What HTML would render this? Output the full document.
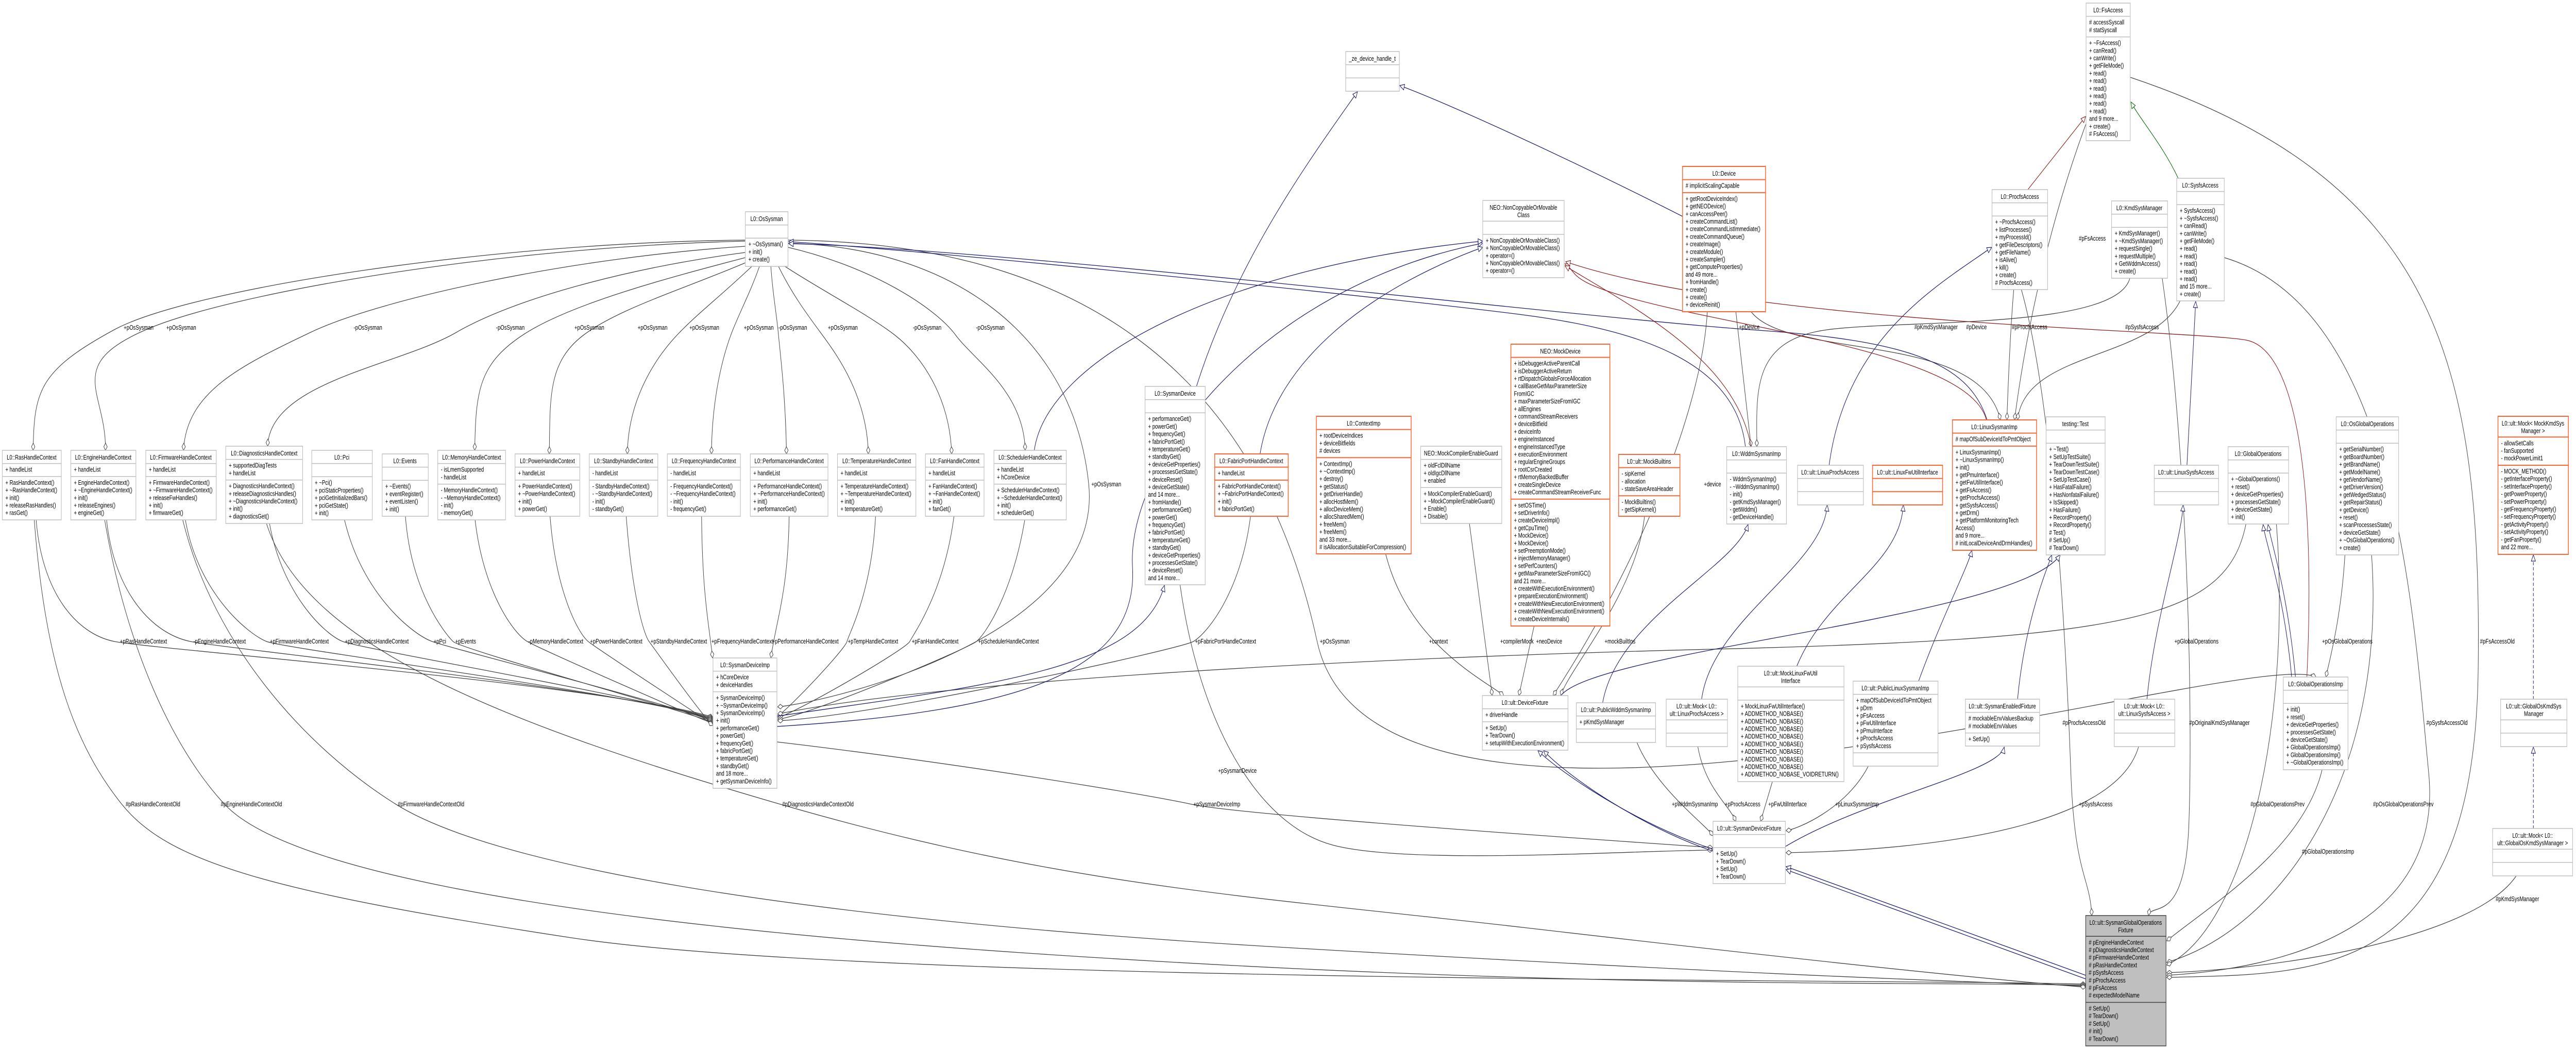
<!DOCTYPE html>
<html><head><meta charset="utf-8"><meta name="viewport" content="width=6767"><style>
html,body{margin:0;padding:0;background:#fff;width:100%;height:100%;overflow:hidden}
svg{display:block;width:100vw;height:100vh}
.t{font-family:"Liberation Sans",sans-serif;font-size:13px;fill:#000}
.c{text-anchor:middle}
.b{fill:#fff;stroke:#bfbfbf;stroke-width:1.5}
.o{fill:#fff;stroke:#ff6633;stroke-width:2}
.g{fill:#bfbfbf;stroke:#404040;stroke-width:1.5}
.e{fill:none;stroke:#404040;stroke-width:1.3}
.n{fill:none;stroke:#191970;stroke-width:1.3}
.r{fill:none;stroke:#8b1a1a;stroke-width:1.3}
.gr{fill:none;stroke:#006400;stroke-width:1.3}
</style></head><body>
<svg xmlns="http://www.w3.org/2000/svg" viewBox="0 0 6767 2036" preserveAspectRatio="none">
<defs>
<marker id="dm" markerUnits="userSpaceOnUse" markerWidth="20" markerHeight="12" refX="15" refY="6" orient="auto"><path d="M1,6 L8,1.5 L15,6 L8,10.5 Z" fill="#fff" stroke="#404040" stroke-width="1.2"/></marker>
<marker id="tn" markerUnits="userSpaceOnUse" markerWidth="16" markerHeight="14" refX="13" refY="7" orient="auto"><path d="M1,1.5 L13,7 L1,12.5 Z" fill="#fff" stroke="#191970" stroke-width="1.2"/></marker>
<marker id="tr" markerUnits="userSpaceOnUse" markerWidth="16" markerHeight="14" refX="13" refY="7" orient="auto"><path d="M1,1.5 L13,7 L1,12.5 Z" fill="#fff" stroke="#8b1a1a" stroke-width="1.2"/></marker>
<marker id="tg" markerUnits="userSpaceOnUse" markerWidth="16" markerHeight="14" refX="13" refY="7" orient="auto"><path d="M1,1.5 L13,7 L1,12.5 Z" fill="#fff" stroke="#006400" stroke-width="1.2"/></marker>
</defs>

<g class="e" marker-end="url(#dm)">
<path d="M1958,466 C1300,470 500,560 300,640 S90,760 87,874"/>
<path d="M1958,468 C1300,480 600,570 383,640 S280,760 277,874"/>
<path d="M1958,478 C1500,500 1000,580 816,645 S490,760 482,874"/>
<path d="M1958,490 C1650,520 1350,580 1199,645 S710,740 703,866"/>
<path d="M1958,500 C1750,540 1500,590 1378,648 S1250,760 1247,874"/>
<path d="M1958,510 C1800,560 1620,600 1530,652 S1445,770 1443,881"/>
<path d="M1975,517 C1900,570 1830,610 1779,650 S1650,770 1648,881"/>
<path d="M1995,517 C1970,570 1940,610 1920,650 S1870,770 1869,881"/>
<path d="M2025,517 C2030,570 2040,610 2045,650 S2064,770 2066,881"/>
<path d="M2045,517 C2080,570 2120,610 2160,650 S2278,770 2281,881"/>
<path d="M2062,517 C2150,560 2280,610 2350,650 S2495,770 2500,881"/>
<path d="M2070,480 C2300,520 2460,600 2510,650 S2690,760 2693,874"/>
<path d="M2070,472 C2500,480 2820,650 2860,940 S2200,1360 2043,1372"/>
<path d="M2070,466 C2800,470 3300,700 3460,1245 S5900,1250 6084,1314"/>

<path d="M95,1009 C110,1150 200,1230 300,1245 S1600,1330 1873,1392"/>
<path d="M280,1009 C300,1150 400,1230 500,1245 S1650,1340 1873,1394"/>
<path d="M487,1009 C520,1150 650,1230 700,1245 S1700,1350 1873,1396"/>
<path d="M708,1016 C740,1150 850,1230 900,1245 S1750,1360 1873,1398"/>
<path d="M905,1009 C950,1150 1080,1230 1135,1245 S1780,1370 1873,1400"/>
<path d="M1065,1002 C1080,1150 1170,1230 1190,1245 S1800,1380 1873,1402"/>
<path d="M1248,1009 C1270,1150 1350,1230 1385,1245 S1820,1390 1873,1404"/>
<path d="M1445,1002 C1460,1150 1520,1230 1545,1245 S1840,1390 1873,1406"/>
<path d="M1645,1002 C1660,1150 1690,1230 1705,1245 S1850,1395 1873,1408"/>
<path d="M1843,1002 C1845,1150 1860,1200 1872,1277"/>
<path d="M2073,1002 C2070,1150 2040,1200 2025,1277"/>
<path d="M2300,1002 C2290,1150 2230,1230 2225,1245 S2080,1370 2043,1390"/>
<path d="M2506,1002 C2480,1150 2400,1230 2390,1245 S2100,1380 2043,1393"/>
<path d="M2692,1009 C2660,1150 2590,1230 2565,1245 S2120,1390 2043,1396"/>
<path d="M3285,1002 C3260,1150 3170,1230 3135,1245 S2300,1390 2043,1399"/>

<path d="M90,1009 C120,1300 200,1450 320,1561 S700,1730 1500,1820 S5000,1900 5479,1910"/>
<path d="M275,1009 C330,1250 450,1450 590,1561 S1300,1780 2700,1850 S5000,1905 5479,1912"/>
<path d="M480,1009 C560,1250 800,1450 1040,1561 S2000,1780 3400,1840 S5200,1905 5479,1914"/>
<path d="M700,1016 C800,1250 1300,1400 2050,1561 S3300,1740 4000,1800 S5200,1900 5479,1916"/>
<path d="M2041,1440 C2500,1480 3000,1540 3130,1561 S4200,1630 4499,1645"/>
<path d="M3100,1135 C3150,1400 3300,1600 3500,1640 S4300,1650 4499,1650"/>

<path d="M4460,1449 C4480,1530 4540,1560 4560,1594"/>
<path d="M4656,1517 L4625,1594"/>
<path d="M4908,1487 C4850,1570 4720,1610 4692,1612"/>
<path d="M4300,1441 C4350,1530 4480,1600 4500,1622"/>
<path d="M5618,1449 C5560,1600 5100,1650 4692,1655"/>

<path d="M6100,1494 C6050,1650 5800,1760 5692,1826"/>
<path d="M6230,1077 C6270,1500 6000,1800 5692,1868"/>
<path d="M5980,1017 C6020,1400 5900,1800 5692,1873"/>
<path d="M6610,1700 C6500,1820 6000,1880 5692,1888"/>
<path d="M5843,500 C6300,600 6340,1200 6380,1500 S6000,1880 5692,1893"/>
<path d="M5596,150 C6400,350 6520,700 6510,1300 S6100,1890 5692,1897"/>
<path d="M5680,540 C5750,900 5760,1400 5750,1600 S5650,1750 5644,1777"/>
<path d="M5310,562 C5400,800 5430,1300 5440,1500 S5490,1700 5495,1777"/>

<path d="M5480,240 C5400,400 5330,600 5292,815"/>
<path d="M5290,562 C5280,650 5275,750 5272,815"/>
<path d="M5727,584 C5650,700 5320,680 5300,815"/>
<path d="M4600,605 C4700,700 5200,640 5255,815"/>
<path d="M5595,540 C5560,640 5000,620 4800,640 S4615,760 4615,867"/>
<path d="M4560,605 L4600,867"/>
<path d="M4485,605 C4470,800 4300,1100 4080,1350"/>
<path d="M4030,1215 L3990,1350"/>
<path d="M4320,1002 C4300,1150 4120,1300 4100,1350"/>
<path d="M3640,1075 C3700,1250 3900,1320 3950,1350"/>
<path d="M3860,1016 L3920,1350"/>
<path d="M6160,1077 C6150,1200 6120,1280 6110,1314"/>
<path d="M5900,1017 C5850,1200 5600,1240 4500,1260 S2400,1330 2043,1386"/>
</g>

<g class="n" marker-end="url(#tn)">
<path d="M2041,1390 C2600,1330 3000,1300 3059,1136"/>
<path d="M2041,1410 C2700,1380 2990,1300 2975,1100 S3300,560 3895,472"/>
<path d="M2717,874 C2750,700 3200,520 3895,468"/>
<path d="M3310,881 C3350,700 3600,560 3895,480"/>
<path d="M3143,750 C3250,500 3450,300 3566,178"/>
<path d="M4420,420 C4100,300 3800,200 3677,166"/>
<path d="M4805,903 C4850,650 5100,550 5232,480"/>
<path d="M5745,903 L5768,585"/>
<path d="M4585,867 C4560,700 4300,640 4000,611 S2500,490 2072,469"/>
<path d="M5220,815 C5170,700 5000,660 4600,640 S2600,480 2072,473"/>
<path d="M4470,1357 C4500,1200 4790,1100 4800,980"/>
<path d="M4720,1293 C4800,1150 4990,1100 5000,980"/>
<path d="M4210,1364 C4250,1200 4560,1100 4592,1018"/>
<path d="M5040,1322 C5100,1200 5170,1100 5180,1068"/>
<path d="M5300,1357 C5320,1200 5380,1100 5390,1077"/>
<path d="M4100,1350 C4200,1260 5300,1200 5412,1077"/>
<path d="M5640,1357 C5660,1200 5730,1050 5735,980"/>
<path d="M6020,1314 C6000,1150 5950,1050 5945,1018"/>
<path d="M6030,1314 C6010,1150 5965,1050 5958,1018"/>
<path d="M6655,1608 L6655,1450" stroke-dasharray="6,4"/>
<path d="M6655,1357 L6655,1077" stroke-dasharray="6,4"/>
<path d="M4500,1648 C4300,1600 4100,1500 4040,1457"/>
<path d="M4500,1652 C4310,1605 4115,1505 4055,1457"/>
<path d="M4690,1643 C4900,1550 5250,1500 5265,1450"/>
<path d="M5479,1893 L4692,1682"/>
<path d="M5479,1900 L4692,1688"/>
</g>

<g class="r" marker-end="url(#tr)">
<path d="M5218,815 C5180,700 4700,650 4400,600 S4150,530 4111,512"/>
<path d="M4600,867 C4560,700 4300,600 4111,516"/>
<path d="M6060,1314 C6080,1000 6050,680 5900,660 S4600,630 4113,508"/>
<path d="M5327,368 L5479,226"/>
</g>
<path class="gr" marker-end="url(#tg)" d="M5722,346 C5680,280 5620,230 5598,198"/>

<g class="t">
<text x="325" y="640">+pOsSysman</text><text x="437" y="640">+pOsSysman</text>
<text x="929" y="640">-pOsSysman</text><text x="1303" y="640">-pOsSysman</text>
<text x="1509" y="640">+pOsSysman</text><text x="1675" y="640">+pOsSysman</text>
<text x="1811" y="640">+pOsSysman</text><text x="1954" y="640">+pOsSysman</text>
<text x="2045" y="640">-pOsSysman</text><text x="2175" y="640">+pOsSysman</text>
<text x="2398" y="640">-pOsSysman</text><text x="2564" y="640">-pOsSysman</text>
<text x="2867" y="944">+pOsSysman</text>

<text x="315" y="1249">+pRasHandleContext</text>
<text x="508" y="1249">-pEngineHandleContext</text>
<text x="709" y="1249">+pFirmwareHandleContext</text>
<text x="906" y="1249">+pDiagnosticsHandleContext</text>
<text x="1139" y="1249">+pPci</text>
<text x="1196" y="1249">+pEvents</text>
<text x="1388" y="1249">-pMemoryHandleContext</text>
<text x="1550" y="1249">+pPowerHandleContext</text>
<text x="1709" y="1249">+pStandbyHandleContext</text>
<text x="1869" y="1249">+pFrequencyHandleContext</text>
<text x="2028" y="1249">+pPerformanceHandleContext</text>
<text x="2227" y="1249">+pTempHandleContext</text>
<text x="2395" y="1249">+pFanHandleContext</text>
<text x="2570" y="1249">+pSchedulerHandleContext</text>
<text x="3139" y="1249">+pFabricPortHandleContext</text>
<text x="3467" y="1249">+pOsSysman</text>
<text x="3754" y="1249">+context</text>
<text x="3941" y="1249">+compilerMock</text>
<text x="4035" y="1249">+neoDevice</text>
<text x="4215" y="1249">+mockBuiltIns</text>
<text x="5712" y="1249">+pGlobalOperations</text>
<text x="6100" y="1249">+pOsGlobalOperations</text>
<text x="6515" y="1249">#pFsAccessOld</text>

<text x="330" y="1565">#pRasHandleContextOld</text>
<text x="580" y="1565">#pEngineHandleContextOld</text>
<text x="1045" y="1565">#pFirmwareHandleContextOld</text>
<text x="2055" y="1565">#pDiagnosticsHandleContextOld</text>
<text x="3135" y="1565">+pSysmanDeviceImp</text>
<text x="3200" y="1500">+pSysmanDevice</text>

<text x="4392" y="1565">+pWddmSysmanImp</text>
<text x="4531" y="1565">+pProcfsAccess</text>
<text x="4645" y="1565">+pFwUtilInterface</text>
<text x="4821" y="1565">+pLinuxSysmanImp</text>
<text x="5461" y="1565">+pSysfsAccess</text>
<text x="5912" y="1565">#pGlobalOperationsPrev</text>
<text x="6234" y="1565">#pOsGlobalOperationsPrev</text>
<text x="5418" y="1407">#pProcfsAccessOld</text>
<text x="5751" y="1407">#pOriginalKmdSysManager</text>
<text x="6374" y="1407">#pSysfsAccessOld</text>
<text x="6047" y="1657">#pGlobalOperationsImp</text>
<text x="6556" y="1749">#pKmdSysManager</text>

<text x="5029" y="639">#pKmdSysManager</text>
<text x="5165" y="639">#pDevice</text>
<text x="5285" y="639">#pProcfsAccess</text>
<text x="5583" y="639">#pSysfsAccess</text>
<text x="4568" y="639">+pDevice</text>
<text x="5461" y="467">#pFsAccess</text>
<text x="4476" y="944">+device</text>
</g>

<g class="t">
<rect class="b" x="1958" y="411" width="112" height="106"/>
<path class="b" d="M1958,436.6 H2070 M1958,462.2 H2070"/>
<text class="c" x="2014" y="429">L0::OsSysman</text>
<text x="1966" y="478.2"><tspan x="1966">+ ~OsSysman()</tspan><tspan x="1966" dy="14.7">+ init()</tspan><tspan x="1966" dy="14.7">+ create()</tspan></text>

<rect class="b" x="3535" y="100" width="141" height="77"/>
<path class="b" d="M3535,125.6 H3676 M3535,151.2 H3676"/>
<text class="c" x="3605" y="118">_ze_device_handle_t</text>

<rect class="b" x="3895" y="389" width="214" height="150"/>
<path class="b" d="M3895,429.3 H4109 M3895,454.9 H4109"/>
<text class="c" x="4002" y="407">NEO::NonCopyableOrMovable</text>
<text class="c" x="4002" y="421.7">Class</text>
<text x="3903" y="470.9"><tspan x="3903">+ NonCopyableOrMovableClass()</tspan><tspan x="3903" dy="14.7">+ NonCopyableOrMovableClass()</tspan><tspan x="3903" dy="14.7">+ operator=()</tspan><tspan x="3903" dy="14.7">+ NonCopyableOrMovableClass()</tspan><tspan x="3903" dy="14.7">+ operator=()</tspan></text>

<rect class="o" x="4420" y="323" width="218" height="282"/>
<path class="o" d="M4420,348.6 H4638 M4420,373.9 H4638"/>
<text class="c" x="4529" y="341">L0::Device</text>
<text x="4428" y="364.6"># implicitScalingCapable</text>
<text x="4428" y="389.9"><tspan x="4428">+ getRootDeviceIndex()</tspan><tspan x="4428" dy="14.7">+ getNEODevice()</tspan><tspan x="4428" dy="14.7">+ canAccessPeer()</tspan><tspan x="4428" dy="14.7">+ createCommandList()</tspan><tspan x="4428" dy="14.7">+ createCommandListImmediate()</tspan><tspan x="4428" dy="14.7">+ createCommandQueue()</tspan><tspan x="4428" dy="14.7">+ createImage()</tspan><tspan x="4428" dy="14.7">+ createModule()</tspan><tspan x="4428" dy="14.7">+ createSampler()</tspan><tspan x="4428" dy="14.7">+ getComputeProperties()</tspan><tspan x="4428" dy="14.7">and 49 more...</tspan><tspan x="4428" dy="14.7">+ fromHandle()</tspan><tspan x="4428" dy="14.7">+ create()</tspan><tspan x="4428" dy="14.7">+ create()</tspan><tspan x="4428" dy="14.7">+ deviceReinit()</tspan></text>

<rect class="b" x="5480" y="6" width="116" height="267"/>
<path class="b" d="M5480,31.6 H5596 M5480,71.6 H5596"/>
<text class="c" x="5538" y="24">L0::FsAccess</text>
<text x="5488" y="47.6"><tspan x="5488"># accessSyscall</tspan><tspan x="5488" dy="14.7"># statSyscall</tspan></text>
<text x="5488" y="87.6"><tspan x="5488">+ ~FsAccess()</tspan><tspan x="5488" dy="14.7">+ canRead()</tspan><tspan x="5488" dy="14.7">+ canWrite()</tspan><tspan x="5488" dy="14.7">+ getFileMode()</tspan><tspan x="5488" dy="14.7">+ read()</tspan><tspan x="5488" dy="14.7">+ read()</tspan><tspan x="5488" dy="14.7">+ read()</tspan><tspan x="5488" dy="14.7">+ read()</tspan><tspan x="5488" dy="14.7">+ read()</tspan><tspan x="5488" dy="14.7">+ read()</tspan><tspan x="5488" dy="14.7">and 9 more...</tspan><tspan x="5488" dy="14.7">+ create()</tspan><tspan x="5488" dy="14.7"># FsAccess()</tspan></text>

<rect class="b" x="5233" y="368" width="146" height="194"/>
<path class="b" d="M5233,393.6 H5379 M5233,419.2 H5379"/>
<text class="c" x="5306" y="386">L0::ProcfsAccess</text>
<text x="5241" y="435.2"><tspan x="5241">+ ~ProcfsAccess()</tspan><tspan x="5241" dy="14.7">+ listProcesses()</tspan><tspan x="5241" dy="14.7">+ myProcessId()</tspan><tspan x="5241" dy="14.7">+ getFileDescriptors()</tspan><tspan x="5241" dy="14.7">+ getFileName()</tspan><tspan x="5241" dy="14.7">+ isAlive()</tspan><tspan x="5241" dy="14.7">+ kill()</tspan><tspan x="5241" dy="14.7">+ create()</tspan><tspan x="5241" dy="14.7"># ProcfsAccess()</tspan></text>

<rect class="b" x="5547" y="390" width="147" height="150"/>
<path class="b" d="M5547,415.6 H5694 M5547,441.2 H5694"/>
<text class="c" x="5620" y="408">L0::KmdSysManager</text>
<text x="5555" y="457.2"><tspan x="5555">+ KmdSysManager()</tspan><tspan x="5555" dy="14.7">+ ~KmdSysManager()</tspan><tspan x="5555" dy="14.7">+ requestSingle()</tspan><tspan x="5555" dy="14.7">+ requestMultiple()</tspan><tspan x="5555" dy="14.7">+ GetWddmAccess()</tspan><tspan x="5555" dy="14.7">+ create()</tspan></text>

<rect class="b" x="5718" y="346" width="125" height="238"/>
<path class="b" d="M5718,371.6 H5843 M5718,397.2 H5843"/>
<text class="c" x="5780" y="364">L0::SysfsAccess</text>
<text x="5726" y="413.2"><tspan x="5726">+ SysfsAccess()</tspan><tspan x="5726" dy="14.7">+ ~SysfsAccess()</tspan><tspan x="5726" dy="14.7">+ canRead()</tspan><tspan x="5726" dy="14.7">+ canWrite()</tspan><tspan x="5726" dy="14.7">+ getFileMode()</tspan><tspan x="5726" dy="14.7">+ read()</tspan><tspan x="5726" dy="14.7">+ read()</tspan><tspan x="5726" dy="14.7">+ read()</tspan><tspan x="5726" dy="14.7">+ read()</tspan><tspan x="5726" dy="14.7">+ read()</tspan><tspan x="5726" dy="14.7">and 15 more...</tspan><tspan x="5726" dy="14.7">+ create()</tspan></text>

<rect class="b" x="6" y="874" width="155" height="135"/>
<path class="b" d="M6,899.6 H161 M6,924.9 H161"/>
<text class="c" x="83" y="892">L0::RasHandleContext</text>
<text x="14" y="915.6">+ handleList</text>
<text x="14" y="940.9"><tspan x="14">+ RasHandleContext()</tspan><tspan x="14" dy="14.7">+ ~RasHandleContext()</tspan><tspan x="14" dy="14.7">+ init()</tspan><tspan x="14" dy="14.7">+ releaseRasHandles()</tspan><tspan x="14" dy="14.7">+ rasGet()</tspan></text>

<rect class="b" x="186" y="874" width="171" height="135"/>
<path class="b" d="M186,899.6 H357 M186,924.9 H357"/>
<text class="c" x="271" y="892">L0::EngineHandleContext</text>
<text x="194" y="915.6">+ handleList</text>
<text x="194" y="940.9"><tspan x="194">+ EngineHandleContext()</tspan><tspan x="194" dy="14.7">+ ~EngineHandleContext()</tspan><tspan x="194" dy="14.7">+ init()</tspan><tspan x="194" dy="14.7">+ releaseEngines()</tspan><tspan x="194" dy="14.7">+ engineGet()</tspan></text>

<rect class="b" x="383" y="874" width="185" height="135"/>
<path class="b" d="M383,899.6 H568 M383,924.9 H568"/>
<text class="c" x="475" y="892">L0::FirmwareHandleContext</text>
<text x="391" y="915.6">+ handleList</text>
<text x="391" y="940.9"><tspan x="391">+ FirmwareHandleContext()</tspan><tspan x="391" dy="14.7">+ ~FirmwareHandleContext()</tspan><tspan x="391" dy="14.7">+ releaseFwHandles()</tspan><tspan x="391" dy="14.7">+ init()</tspan><tspan x="391" dy="14.7">+ firmwareGet()</tspan></text>

<rect class="b" x="593" y="866" width="202" height="150"/>
<path class="b" d="M593,891.6 H795 M593,931.6 H795"/>
<text class="c" x="694" y="884">L0::DiagnosticsHandleContext</text>
<text x="601" y="907.6"><tspan x="601">+ supportedDiagTests</tspan><tspan x="601" dy="14.7">+ handleList</tspan></text>
<text x="601" y="947.6"><tspan x="601">+ DiagnosticsHandleContext()</tspan><tspan x="601" dy="14.7">+ releaseDiagnosticsHandles()</tspan><tspan x="601" dy="14.7">+ ~DiagnosticsHandleContext()</tspan><tspan x="601" dy="14.7">+ init()</tspan><tspan x="601" dy="14.7">+ diagnosticsGet()</tspan></text>

<rect class="b" x="819" y="874" width="159" height="135"/>
<path class="b" d="M819,899.6 H978 M819,925.2 H978"/>
<text class="c" x="898" y="892">L0::Pci</text>
<text x="827" y="941.2"><tspan x="827">+ ~Pci()</tspan><tspan x="827" dy="14.7">+ pciStaticProperties()</tspan><tspan x="827" dy="14.7">+ pciGetInitializedBars()</tspan><tspan x="827" dy="14.7">+ pciGetState()</tspan><tspan x="827" dy="14.7">+ init()</tspan></text>

<rect class="b" x="1004" y="881" width="121" height="121"/>
<path class="b" d="M1004,906.6 H1125 M1004,932.2 H1125"/>
<text class="c" x="1064" y="899">L0::Events</text>
<text x="1012" y="948.2"><tspan x="1012">+ ~Events()</tspan><tspan x="1012" dy="14.7">+ eventRegister()</tspan><tspan x="1012" dy="14.7">+ eventListen()</tspan><tspan x="1012" dy="14.7">+ init()</tspan></text>

<rect class="b" x="1150" y="874" width="178" height="135"/>
<path class="b" d="M1150,899.6 H1328 M1150,939.6 H1328"/>
<text class="c" x="1239" y="892">L0::MemoryHandleContext</text>
<text x="1158" y="915.6"><tspan x="1158">- isLmemSupported</tspan><tspan x="1158" dy="14.7">- handleList</tspan></text>
<text x="1158" y="955.6"><tspan x="1158">- MemoryHandleContext()</tspan><tspan x="1158" dy="14.7">- ~MemoryHandleContext()</tspan><tspan x="1158" dy="14.7">- init()</tspan><tspan x="1158" dy="14.7">- memoryGet()</tspan></text>

<rect class="b" x="1353" y="881" width="170" height="121"/>
<path class="b" d="M1353,906.6 H1523 M1353,931.9 H1523"/>
<text class="c" x="1438" y="899">L0::PowerHandleContext</text>
<text x="1361" y="922.6">+ handleList</text>
<text x="1361" y="947.9"><tspan x="1361">+ PowerHandleContext()</tspan><tspan x="1361" dy="14.7">+ ~PowerHandleContext()</tspan><tspan x="1361" dy="14.7">+ init()</tspan><tspan x="1361" dy="14.7">+ powerGet()</tspan></text>

<rect class="b" x="1548" y="881" width="180" height="121"/>
<path class="b" d="M1548,906.6 H1728 M1548,931.9 H1728"/>
<text class="c" x="1638" y="899">L0::StandbyHandleContext</text>
<text x="1556" y="922.6">- handleList</text>
<text x="1556" y="947.9"><tspan x="1556">- StandbyHandleContext()</tspan><tspan x="1556" dy="14.7">- ~StandbyHandleContext()</tspan><tspan x="1556" dy="14.7">- init()</tspan><tspan x="1556" dy="14.7">- standbyGet()</tspan></text>

<rect class="b" x="1753" y="881" width="192" height="121"/>
<path class="b" d="M1753,906.6 H1945 M1753,931.9 H1945"/>
<text class="c" x="1849" y="899">L0::FrequencyHandleContext</text>
<text x="1761" y="922.6">- handleList</text>
<text x="1761" y="947.9"><tspan x="1761">- FrequencyHandleContext()</tspan><tspan x="1761" dy="14.7">- ~FrequencyHandleContext()</tspan><tspan x="1761" dy="14.7">- init()</tspan><tspan x="1761" dy="14.7">- frequencyGet()</tspan></text>

<rect class="b" x="1971" y="881" width="204" height="121"/>
<path class="b" d="M1971,906.6 H2175 M1971,931.9 H2175"/>
<text class="c" x="2073" y="899">L0::PerformanceHandleContext</text>
<text x="1979" y="922.6">+ handleList</text>
<text x="1979" y="947.9"><tspan x="1979">+ PerformanceHandleContext()</tspan><tspan x="1979" dy="14.7">+ ~PerformanceHandleContext()</tspan><tspan x="1979" dy="14.7">+ init()</tspan><tspan x="1979" dy="14.7">+ performanceGet()</tspan></text>

<rect class="b" x="2200" y="881" width="206" height="121"/>
<path class="b" d="M2200,906.6 H2406 M2200,931.9 H2406"/>
<text class="c" x="2303" y="899">L0::TemperatureHandleContext</text>
<text x="2208" y="922.6">+ handleList</text>
<text x="2208" y="947.9"><tspan x="2208">+ TemperatureHandleContext()</tspan><tspan x="2208" dy="14.7">+ ~TemperatureHandleContext()</tspan><tspan x="2208" dy="14.7">+ init()</tspan><tspan x="2208" dy="14.7">+ temperatureGet()</tspan></text>

<rect class="b" x="2431" y="881" width="154" height="121"/>
<path class="b" d="M2431,906.6 H2585 M2431,931.9 H2585"/>
<text class="c" x="2508" y="899">L0::FanHandleContext</text>
<text x="2439" y="922.6">+ handleList</text>
<text x="2439" y="947.9"><tspan x="2439">+ FanHandleContext()</tspan><tspan x="2439" dy="14.7">+ ~FanHandleContext()</tspan><tspan x="2439" dy="14.7">+ init()</tspan><tspan x="2439" dy="14.7">+ fanGet()</tspan></text>

<rect class="b" x="2611" y="874" width="190" height="135"/>
<path class="b" d="M2611,899.6 H2801 M2611,939.6 H2801"/>
<text class="c" x="2706" y="892">L0::SchedulerHandleContext</text>
<text x="2619" y="915.6"><tspan x="2619">+ handleList</tspan><tspan x="2619" dy="14.7">+ hCoreDevice</tspan></text>
<text x="2619" y="955.6"><tspan x="2619">+ SchedulerHandleContext()</tspan><tspan x="2619" dy="14.7">+ ~SchedulerHandleContext()</tspan><tspan x="2619" dy="14.7">+ init()</tspan><tspan x="2619" dy="14.7">+ schedulerGet()</tspan></text>

<rect class="b" x="3008" y="750" width="158" height="385"/>
<path class="b" d="M3008,775.6 H3166 M3008,801.2 H3166"/>
<text class="c" x="3087" y="768">L0::SysmanDevice</text>
<text x="3016" y="817.2"><tspan x="3016">+ performanceGet()</tspan><tspan x="3016" dy="14.7">+ powerGet()</tspan><tspan x="3016" dy="14.7">+ frequencyGet()</tspan><tspan x="3016" dy="14.7">+ fabricPortGet()</tspan><tspan x="3016" dy="14.7">+ temperatureGet()</tspan><tspan x="3016" dy="14.7">+ standbyGet()</tspan><tspan x="3016" dy="14.7">+ deviceGetProperties()</tspan><tspan x="3016" dy="14.7">+ processesGetState()</tspan><tspan x="3016" dy="14.7">+ deviceReset()</tspan><tspan x="3016" dy="14.7">+ deviceGetState()</tspan><tspan x="3016" dy="14.7">and 14 more...</tspan><tspan x="3016" dy="14.7">+ fromHandle()</tspan><tspan x="3016" dy="14.7">+ performanceGet()</tspan><tspan x="3016" dy="14.7">+ powerGet()</tspan><tspan x="3016" dy="14.7">+ frequencyGet()</tspan><tspan x="3016" dy="14.7">+ fabricPortGet()</tspan><tspan x="3016" dy="14.7">+ temperatureGet()</tspan><tspan x="3016" dy="14.7">+ standbyGet()</tspan><tspan x="3016" dy="14.7">+ deviceGetProperties()</tspan><tspan x="3016" dy="14.7">+ processesGetState()</tspan><tspan x="3016" dy="14.7">+ deviceReset()</tspan><tspan x="3016" dy="14.7">and 14 more...</tspan></text>

<rect class="o" x="3191" y="881" width="193" height="121"/>
<path class="o" d="M3191,906.6 H3384 M3191,931.9 H3384"/>
<text class="c" x="3287" y="899">L0::FabricPortHandleContext</text>
<text x="3199" y="922.6">+ handleList</text>
<text x="3199" y="947.9"><tspan x="3199">+ FabricPortHandleContext()</tspan><tspan x="3199" dy="14.7">+ ~FabricPortHandleContext()</tspan><tspan x="3199" dy="14.7">+ init()</tspan><tspan x="3199" dy="14.7">+ fabricPortGet()</tspan></text>

<rect class="o" x="3458" y="808" width="249" height="267"/>
<path class="o" d="M3458,833.6 H3707 M3458,888.3 H3707"/>
<text class="c" x="3582" y="826">L0::ContextImp</text>
<text x="3466" y="849.6"><tspan x="3466">+ rootDeviceIndices</tspan><tspan x="3466" dy="14.7">+ deviceBitfields</tspan><tspan x="3466" dy="14.7"># devices</tspan></text>
<text x="3466" y="904.3"><tspan x="3466">+ ContextImp()</tspan><tspan x="3466" dy="14.7">+ ~ContextImp()</tspan><tspan x="3466" dy="14.7">+ destroy()</tspan><tspan x="3466" dy="14.7">+ getStatus()</tspan><tspan x="3466" dy="14.7">+ getDriverHandle()</tspan><tspan x="3466" dy="14.7">+ allocHostMem()</tspan><tspan x="3466" dy="14.7">+ allocDeviceMem()</tspan><tspan x="3466" dy="14.7">+ allocSharedMem()</tspan><tspan x="3466" dy="14.7">+ freeMem()</tspan><tspan x="3466" dy="14.7">+ freeMem()</tspan><tspan x="3466" dy="14.7">and 33 more...</tspan><tspan x="3466" dy="14.7"># isAllocationSuitableForCompression()</tspan></text>

<rect class="b" x="3732" y="866" width="213" height="150"/>
<path class="b" d="M3732,891.6 H3945 M3732,946.3 H3945"/>
<text class="c" x="3838" y="884">NEO::MockCompilerEnableGuard</text>
<text x="3740" y="907.6"><tspan x="3740">+ oldFclDllName</tspan><tspan x="3740" dy="14.7">+ oldIgcDllName</tspan><tspan x="3740" dy="14.7">+ enabled</tspan></text>
<text x="3740" y="962.3"><tspan x="3740">+ MockCompilerEnableGuard()</tspan><tspan x="3740" dy="14.7">+ ~MockCompilerEnableGuard()</tspan><tspan x="3740" dy="14.7">+ Enable()</tspan><tspan x="3740" dy="14.7">+ Disable()</tspan></text>

<rect class="o" x="3969" y="668" width="260" height="547"/>
<path class="o" d="M3969,693.6 H4229 M3969,968.8 H4229"/>
<text class="c" x="4099" y="686">NEO::MockDevice</text>
<text x="3977" y="709.6"><tspan x="3977">+ isDebuggerActiveParentCall</tspan><tspan x="3977" dy="14.7">+ isDebuggerActiveReturn</tspan><tspan x="3977" dy="14.7">+ rtDispatchGlobalsForceAllocation</tspan><tspan x="3977" dy="14.7">+ callBaseGetMaxParameterSize</tspan><tspan x="3977" dy="14.7">FromIGC</tspan><tspan x="3977" dy="14.7">+ maxParameterSizeFromIGC</tspan><tspan x="3977" dy="14.7">+ allEngines</tspan><tspan x="3977" dy="14.7">+ commandStreamReceivers</tspan><tspan x="3977" dy="14.7">+ deviceBitfield</tspan><tspan x="3977" dy="14.7">+ deviceInfo</tspan><tspan x="3977" dy="14.7">+ engineInstanced</tspan><tspan x="3977" dy="14.7">+ engineInstancedType</tspan><tspan x="3977" dy="14.7">+ executionEnvironment</tspan><tspan x="3977" dy="14.7">+ regularEngineGroups</tspan><tspan x="3977" dy="14.7">+ rootCsrCreated</tspan><tspan x="3977" dy="14.7">+ rtMemoryBackedBuffer</tspan><tspan x="3977" dy="14.7">+ createSingleDevice</tspan><tspan x="3977" dy="14.7">+ createCommandStreamReceiverFunc</tspan></text>
<text x="3977" y="984.8"><tspan x="3977">+ setOSTime()</tspan><tspan x="3977" dy="14.7">+ setDriverInfo()</tspan><tspan x="3977" dy="14.7">+ createDeviceImpl()</tspan><tspan x="3977" dy="14.7">+ getCpuTime()</tspan><tspan x="3977" dy="14.7">+ MockDevice()</tspan><tspan x="3977" dy="14.7">+ MockDevice()</tspan><tspan x="3977" dy="14.7">+ setPreemptionMode()</tspan><tspan x="3977" dy="14.7">+ injectMemoryManager()</tspan><tspan x="3977" dy="14.7">+ setPerfCounters()</tspan><tspan x="3977" dy="14.7">+ getMaxParameterSizeFromIGC()</tspan><tspan x="3977" dy="14.7">and 21 more...</tspan><tspan x="3977" dy="14.7">+ createWithExecutionEnvironment()</tspan><tspan x="3977" dy="14.7">+ prepareExecutionEnvironment()</tspan><tspan x="3977" dy="14.7">+ createWithNewExecutionEnvironment()</tspan><tspan x="3977" dy="14.7">+ createWithNewExecutionEnvironment()</tspan><tspan x="3977" dy="14.7">+ createDeviceInternals()</tspan></text>

<rect class="o" x="4252" y="882" width="161" height="120"/>
<path class="o" d="M4252,907.6 H4413 M4252,962.3 H4413"/>
<text class="c" x="4332" y="900">L0::ult::MockBuiltins</text>
<text x="4260" y="923.6"><tspan x="4260">- sipKernel</tspan><tspan x="4260" dy="14.7">- allocation</tspan><tspan x="4260" dy="14.7">- stateSaveAreaHeader</tspan></text>
<text x="4260" y="978.3"><tspan x="4260">- MockBuiltins()</tspan><tspan x="4260" dy="14.7">- getSipKernel()</tspan></text>

<rect class="b" x="4536" y="867" width="157" height="150"/>
<path class="b" d="M4536,892.6 H4693 M4536,918.2 H4693"/>
<text class="c" x="4614" y="885">L0::WddmSysmanImp</text>
<text x="4544" y="934.2"><tspan x="4544">- WddmSysmanImp()</tspan><tspan x="4544" dy="14.7">- ~WddmSysmanImp()</tspan><tspan x="4544" dy="14.7">- init()</tspan><tspan x="4544" dy="14.7">- getKmdSysManager()</tspan><tspan x="4544" dy="14.7">- getWddm()</tspan><tspan x="4544" dy="14.7">- getDeviceHandle()</tspan></text>

<rect class="b" x="4722" y="903" width="173" height="77"/>
<path class="b" d="M4722,928.6 H4895 M4722,954.2 H4895"/>
<text class="c" x="4808" y="921">L0::ult::LinuxProcfsAccess</text>

<rect class="o" x="4919" y="903" width="184" height="77"/>
<path class="o" d="M4919,928.6 H5103 M4919,954.2 H5103"/>
<text class="c" x="5011" y="921">L0::ult::LinuxFwUtilInterface</text>

<rect class="o" x="5129" y="815" width="221" height="253"/>
<path class="o" d="M5129,840.6 H5350 M5129,865.9 H5350"/>
<text class="c" x="5239" y="833">L0::LinuxSysmanImp</text>
<text x="5137" y="856.6"># mapOfSubDeviceIdToPmtObject</text>
<text x="5137" y="881.9"><tspan x="5137">+ LinuxSysmanImp()</tspan><tspan x="5137" dy="14.7">+ ~LinuxSysmanImp()</tspan><tspan x="5137" dy="14.7">+ init()</tspan><tspan x="5137" dy="14.7">+ getPmuInterface()</tspan><tspan x="5137" dy="14.7">+ getFwUtilInterface()</tspan><tspan x="5137" dy="14.7">+ getFsAccess()</tspan><tspan x="5137" dy="14.7">+ getProcfsAccess()</tspan><tspan x="5137" dy="14.7">+ getSysfsAccess()</tspan><tspan x="5137" dy="14.7">+ getDrm()</tspan><tspan x="5137" dy="14.7">+ getPlatformMonitoringTech</tspan><tspan x="5137" dy="14.7">Access()</tspan><tspan x="5137" dy="14.7">and 9 more...</tspan><tspan x="5137" dy="14.7"># initLocalDeviceAndDrmHandles()</tspan></text>

<rect class="b" x="5375" y="809" width="155" height="268"/>
<path class="b" d="M5375,834.6 H5530 M5375,860.2 H5530"/>
<text class="c" x="5452" y="827">testing::Test</text>
<text x="5383" y="876.2"><tspan x="5383">+ ~Test()</tspan><tspan x="5383" dy="14.7">+ SetUpTestSuite()</tspan><tspan x="5383" dy="14.7">+ TearDownTestSuite()</tspan><tspan x="5383" dy="14.7">+ TearDownTestCase()</tspan><tspan x="5383" dy="14.7">+ SetUpTestCase()</tspan><tspan x="5383" dy="14.7">+ HasFatalFailure()</tspan><tspan x="5383" dy="14.7">+ HasNonfatalFailure()</tspan><tspan x="5383" dy="14.7">+ IsSkipped()</tspan><tspan x="5383" dy="14.7">+ HasFailure()</tspan><tspan x="5383" dy="14.7">+ RecordProperty()</tspan><tspan x="5383" dy="14.7">+ RecordProperty()</tspan><tspan x="5383" dy="14.7"># Test()</tspan><tspan x="5383" dy="14.7"># SetUp()</tspan><tspan x="5383" dy="14.7"># TearDown()</tspan></text>

<rect class="b" x="5659" y="903" width="169" height="77"/>
<path class="b" d="M5659,928.6 H5828 M5659,954.2 H5828"/>
<text class="c" x="5743" y="921">L0::ult::LinuxSysfsAccess</text>

<rect class="b" x="5853" y="867" width="159" height="150"/>
<path class="b" d="M5853,892.6 H6012 M5853,918.2 H6012"/>
<text class="c" x="5932" y="885">L0::GlobalOperations</text>
<text x="5861" y="934.2"><tspan x="5861">+ ~GlobalOperations()</tspan><tspan x="5861" dy="14.7">+ reset()</tspan><tspan x="5861" dy="14.7">+ deviceGetProperties()</tspan><tspan x="5861" dy="14.7">+ processesGetState()</tspan><tspan x="5861" dy="14.7">+ deviceGetState()</tspan><tspan x="5861" dy="14.7">+ init()</tspan></text>

<rect class="b" x="6137" y="809" width="164" height="268"/>
<path class="b" d="M6137,834.6 H6301 M6137,860.2 H6301"/>
<text class="c" x="6219" y="827">L0::OsGlobalOperations</text>
<text x="6145" y="876.2"><tspan x="6145">+ getSerialNumber()</tspan><tspan x="6145" dy="14.7">+ getBoardNumber()</tspan><tspan x="6145" dy="14.7">+ getBrandName()</tspan><tspan x="6145" dy="14.7">+ getModelName()</tspan><tspan x="6145" dy="14.7">+ getVendorName()</tspan><tspan x="6145" dy="14.7">+ getDriverVersion()</tspan><tspan x="6145" dy="14.7">+ getWedgedStatus()</tspan><tspan x="6145" dy="14.7">+ getRepairStatus()</tspan><tspan x="6145" dy="14.7">+ getDevice()</tspan><tspan x="6145" dy="14.7">+ reset()</tspan><tspan x="6145" dy="14.7">+ scanProcessesState()</tspan><tspan x="6145" dy="14.7">+ deviceGetState()</tspan><tspan x="6145" dy="14.7">+ ~OsGlobalOperations()</tspan><tspan x="6145" dy="14.7">+ create()</tspan></text>

<rect class="o" x="6562" y="808" width="185" height="268"/>
<path class="o" d="M6562,848.3 H6747 M6562,903 H6747"/>
<text class="c" x="6654" y="826">L0::ult::Mock&lt; MockKmdSys</text>
<text class="c" x="6654" y="840.7">Manager &gt;</text>
<text x="6570" y="864.3"><tspan x="6570">- allowSetCalls</tspan><tspan x="6570" dy="14.7">- fanSupported</tspan><tspan x="6570" dy="14.7">- mockPowerLimit1</tspan></text>
<text x="6570" y="919"><tspan x="6570">- MOCK_METHOD()</tspan><tspan x="6570" dy="14.7">- getInterfaceProperty()</tspan><tspan x="6570" dy="14.7">- setInterfaceProperty()</tspan><tspan x="6570" dy="14.7">- getPowerProperty()</tspan><tspan x="6570" dy="14.7">- setPowerProperty()</tspan><tspan x="6570" dy="14.7">- getFrequencyProperty()</tspan><tspan x="6570" dy="14.7">- setFrequencyProperty()</tspan><tspan x="6570" dy="14.7">- getActivityProperty()</tspan><tspan x="6570" dy="14.7">- setActivityProperty()</tspan><tspan x="6570" dy="14.7">- getFanProperty()</tspan><tspan x="6570" dy="14.7">and 22 more...</tspan></text>

<rect class="b" x="1873" y="1277" width="168" height="253"/>
<path class="b" d="M1873,1302.6 H2041 M1873,1342.6 H2041"/>
<text class="c" x="1957" y="1295">L0::SysmanDeviceImp</text>
<text x="1881" y="1318.6"><tspan x="1881">+ hCoreDevice</tspan><tspan x="1881" dy="14.7">+ deviceHandles</tspan></text>
<text x="1881" y="1358.6"><tspan x="1881">+ SysmanDeviceImp()</tspan><tspan x="1881" dy="14.7">+ ~SysmanDeviceImp()</tspan><tspan x="1881" dy="14.7">+ SysmanDeviceImp()</tspan><tspan x="1881" dy="14.7">+ init()</tspan><tspan x="1881" dy="14.7">+ performanceGet()</tspan><tspan x="1881" dy="14.7">+ powerGet()</tspan><tspan x="1881" dy="14.7">+ frequencyGet()</tspan><tspan x="1881" dy="14.7">+ fabricPortGet()</tspan><tspan x="1881" dy="14.7">+ temperatureGet()</tspan><tspan x="1881" dy="14.7">+ standbyGet()</tspan><tspan x="1881" dy="14.7">and 18 more...</tspan><tspan x="1881" dy="14.7">+ getSysmanDeviceInfo()</tspan></text>

<rect class="b" x="3894" y="1350" width="225" height="106"/>
<path class="b" d="M3894,1375.6 H4119 M3894,1400.9 H4119"/>
<text class="c" x="4006" y="1368">L0::ult::DeviceFixture</text>
<text x="3902" y="1391.6">+ driverHandle</text>
<text x="3902" y="1416.9"><tspan x="3902">+ SetUp()</tspan><tspan x="3902" dy="14.7">+ TearDown()</tspan><tspan x="3902" dy="14.7">+ setupWithExecutionEnvironment()</tspan></text>

<rect class="b" x="4141" y="1364" width="208" height="77"/>
<path class="b" d="M4141,1389.6 H4349 M4141,1414.9 H4349"/>
<text class="c" x="4245" y="1382">L0::ult::PublicWddmSysmanImp</text>
<text x="4149" y="1405.6">+ pKmdSysManager</text>

<rect class="b" x="4377" y="1357" width="161" height="92"/>
<path class="b" d="M4377,1397.3 H4538 M4377,1422.9 H4538"/>
<text class="c" x="4457" y="1375">L0::ult::Mock&lt; L0::</text>
<text class="c" x="4457" y="1389.7">ult::LinuxProcfsAccess &gt;</text>

<rect class="b" x="4565" y="1293" width="279" height="224"/>
<path class="b" d="M4565,1333.3 H4844 M4565,1358.9 H4844"/>
<text class="c" x="4704" y="1311">L0::ult::MockLinuxFwUtil</text>
<text class="c" x="4704" y="1325.7">Interface</text>
<text x="4573" y="1374.9"><tspan x="4573">+ MockLinuxFwUtilInterface()</tspan><tspan x="4573" dy="14.7">+ ADDMETHOD_NOBASE()</tspan><tspan x="4573" dy="14.7">+ ADDMETHOD_NOBASE()</tspan><tspan x="4573" dy="14.7">+ ADDMETHOD_NOBASE()</tspan><tspan x="4573" dy="14.7">+ ADDMETHOD_NOBASE()</tspan><tspan x="4573" dy="14.7">+ ADDMETHOD_NOBASE()</tspan><tspan x="4573" dy="14.7">+ ADDMETHOD_NOBASE()</tspan><tspan x="4573" dy="14.7">+ ADDMETHOD_NOBASE()</tspan><tspan x="4573" dy="14.7">+ ADDMETHOD_NOBASE()</tspan><tspan x="4573" dy="14.7">+ ADDMETHOD_NOBASE_VOIDRETURN()</tspan></text>

<rect class="b" x="4868" y="1322" width="223" height="165"/>
<path class="b" d="M4868,1347.6 H5091 M4868,1461.1 H5091"/>
<text class="c" x="4979" y="1340">L0::ult::PublicLinuxSysmanImp</text>
<text x="4876" y="1363.6"><tspan x="4876">+ mapOfSubDeviceIdToPmtObject</tspan><tspan x="4876" dy="14.7">+ pDrm</tspan><tspan x="4876" dy="14.7">+ pFsAccess</tspan><tspan x="4876" dy="14.7">+ pFwUtilInterface</tspan><tspan x="4876" dy="14.7">+ pPmuInterface</tspan><tspan x="4876" dy="14.7">+ pProcfsAccess</tspan><tspan x="4876" dy="14.7">+ pSysfsAccess</tspan></text>

<rect class="b" x="4500" y="1594" width="190" height="121"/>
<path class="b" d="M4500,1619.6 H4690 M4500,1645.2 H4690"/>
<text class="c" x="4595" y="1612">L0::ult::SysmanDeviceFixture</text>
<text x="4508" y="1661.2"><tspan x="4508">+ SetUp()</tspan><tspan x="4508" dy="14.7">+ TearDown()</tspan><tspan x="4508" dy="14.7">+ SetUp()</tspan><tspan x="4508" dy="14.7">+ TearDown()</tspan></text>

<rect class="b" x="5163" y="1357" width="195" height="91"/>
<path class="b" d="M5163,1382.6 H5358 M5163,1422.6 H5358"/>
<text class="c" x="5260" y="1375">L0::ult::SysmanEnabledFixture</text>
<text x="5171" y="1398.6"><tspan x="5171"># mockableEnvValuesBackup</tspan><tspan x="5171" dy="14.7"># mockableEnvValues</tspan></text>
<text x="5171" y="1438.6">+ SetUp()</text>

<rect class="b" x="5554" y="1357" width="159" height="92"/>
<path class="b" d="M5554,1397.3 H5713 M5554,1422.9 H5713"/>
<text class="c" x="5633" y="1375">L0::ult::Mock&lt; L0::</text>
<text class="c" x="5633" y="1389.7">ult::LinuxSysfsAccess &gt;</text>

<rect class="b" x="5998" y="1314" width="170" height="180"/>
<path class="b" d="M5998,1339.6 H6168 M5998,1365.2 H6168"/>
<text class="c" x="6083" y="1332">L0::GlobalOperationsImp</text>
<text x="6006" y="1381.2"><tspan x="6006">+ init()</tspan><tspan x="6006" dy="14.7">+ reset()</tspan><tspan x="6006" dy="14.7">+ deviceGetProperties()</tspan><tspan x="6006" dy="14.7">+ processesGetState()</tspan><tspan x="6006" dy="14.7">+ deviceGetState()</tspan><tspan x="6006" dy="14.7">+ GlobalOperationsImp()</tspan><tspan x="6006" dy="14.7">+ GlobalOperationsImp()</tspan><tspan x="6006" dy="14.7">+ ~GlobalOperationsImp()</tspan></text>

<rect class="b" x="6569" y="1357" width="174" height="92"/>
<path class="b" d="M6569,1397.3 H6743 M6569,1422.9 H6743"/>
<text class="c" x="6656" y="1375">L0::ult::GlobalOsKmdSys</text>
<text class="c" x="6656" y="1389.7">Manager</text>

<rect class="b" x="6548" y="1608" width="210" height="92"/>
<path class="b" d="M6548,1648.3 H6758 M6548,1673.9 H6758"/>
<text class="c" x="6653" y="1626">L0::ult::Mock&lt; L0::</text>
<text class="c" x="6653" y="1640.7">ult::GlobalOsKmdSysManager &gt;</text>

<rect class="g" x="5479" y="1777" width="211" height="253"/>
<path class="g" d="M5479,1817.3 H5690 M5479,1945.5 H5690"/>
<text class="c" x="5584" y="1795">L0::ult::SysmanGlobalOperations</text>
<text class="c" x="5584" y="1809.7">Fixture</text>
<text x="5487" y="1833.3"><tspan x="5487"># pEngineHandleContext</tspan><tspan x="5487" dy="14.7"># pDiagnosticsHandleContext</tspan><tspan x="5487" dy="14.7"># pFirmwareHandleContext</tspan><tspan x="5487" dy="14.7"># pRasHandleContext</tspan><tspan x="5487" dy="14.7"># pSysfsAccess</tspan><tspan x="5487" dy="14.7"># pProcfsAccess</tspan><tspan x="5487" dy="14.7"># pFsAccess</tspan><tspan x="5487" dy="14.7"># expectedModelName</tspan></text>
<text x="5487" y="1961.5"><tspan x="5487"># SetUp()</tspan><tspan x="5487" dy="14.7"># TearDown()</tspan><tspan x="5487" dy="14.7"># SetUp()</tspan><tspan x="5487" dy="14.7"># init()</tspan><tspan x="5487" dy="14.7"># TearDown()</tspan></text>
</g>
</svg>
</body></html>
